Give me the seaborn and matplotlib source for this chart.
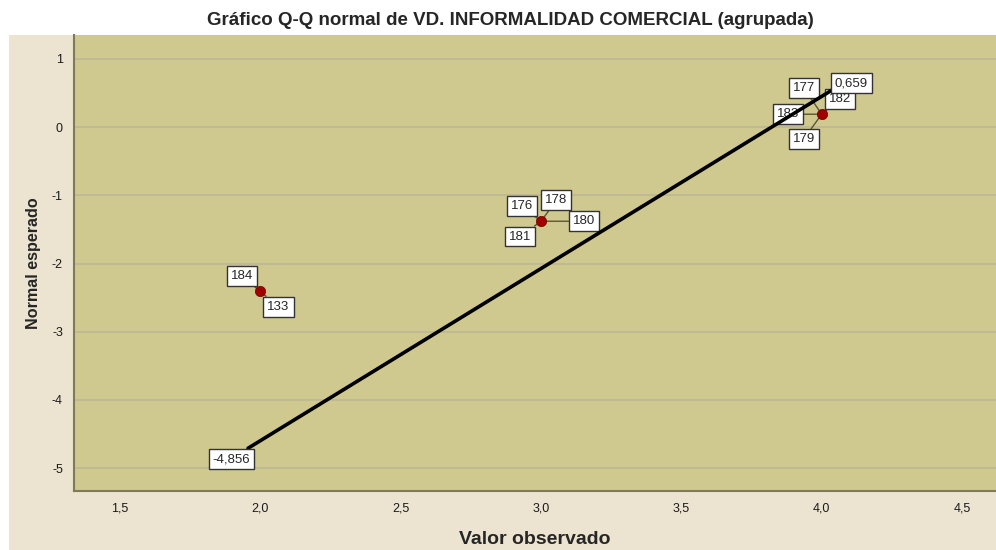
import matplotlib
matplotlib.use("Agg")
import matplotlib.pyplot as plt
import matplotlib.patches as mpatches
from matplotlib.ticker import FuncFormatter, FixedLocator
import seaborn as sns
import pandas as pd

# Data
obs_values = [2.0, 3.0, 4.0]
expected_normal = [-2.41, -1.38, 0.19]
line_x = [1.956, 4.037]
line_y = [-4.71, 0.545]
line_labels = ["-4,856", "0,659"]
# case labels per point
point_labels = [["184", "133"], ["176", "178", "180", "181"], ["177", "183", "182", "179"]]
x_ticks = [1.5, 2.0, 2.5, 3.0, 3.5, 4.0, 4.5]
y_ticks = [1, 0, -1, -2, -3, -4, -5]

title = "Gráfico Q-Q normal de VD. INFORMALIDAD COMERCIAL (agrupada)"
xlabel = "Valor observado"
ylabel = "Normal esperado"

sns.set_theme(style="white")
plt.rcParams['font.family'] = ['Arial', 'Liberation Sans', 'DejaVu Sans']

fig = plt.figure(figsize=(9.96, 5.5), dpi=100)
fig.patch.set_facecolor("white")
# outer beige panel
fig.add_artist(mpatches.Rectangle((9/996, 0), 1 - 9/996, (550-35)/550,
                                  transform=fig.transFigure, facecolor="#ECE4D0",
                                  edgecolor="none", zorder=0))

ax = fig.add_axes([74/996, 59/550, 1 - 74/996, (491-35)/550])
ax.set_facecolor("#CFC98F")
ax.set_xlim(1.336, 4.621)
ax.set_ylim(-5.337, 1.352)

ax.yaxis.set_major_locator(FixedLocator(y_ticks))
ax.xaxis.set_major_locator(FixedLocator(x_ticks))
ax.yaxis.set_major_formatter(FuncFormatter(lambda v, p: f"{v:.0f}".replace("-0", "0")))
ax.xaxis.set_major_formatter(FuncFormatter(lambda v, p: f"{v:.1f}".replace(".", ",")))
ax.grid(axis="y", color="#BDB697", linewidth=1.2)
ax.grid(axis="x", visible=False)
ax.set_axisbelow(True)
for s in ["top", "right"]:
    ax.spines[s].set_visible(False)
for s in ["left", "bottom"]:
    ax.spines[s].set_color("#7F7A5A")
    ax.spines[s].set_linewidth(1.5)
ax.tick_params(axis="both", length=0, labelsize=9, colors="#1a1a1a", pad=8)

df_line = pd.DataFrame({"x": line_x, "y": line_y})
sns.lineplot(data=df_line, x="x", y="y", ax=ax, color="black", linewidth=2.6, zorder=4)

df_pts = pd.DataFrame({"x": obs_values, "y": expected_normal})
sns.scatterplot(data=df_pts, x="x", y="y", ax=ax, color="#A00000", s=55,
                edgecolor="#700000", linewidth=0.5, zorder=5)

box = dict(boxstyle="square,pad=0.3", facecolor="white", edgecolor="#333333", linewidth=1)
# pixel offsets for labels per point (dx, dy) in points
offsets = [
    [(-13, 11), (13, -11)],
    [(-14, 11), (11, 15), (31, 0), (-15, -11)],
    [(-13, 19), (-24, 0), (13, 11), (-13, -18)],
]
for (xv, yv), labs, offs in zip(zip(obs_values, expected_normal), point_labels, offsets):
    for lab, (dx, dy) in zip(labs, offs):
        ax.annotate(lab, (xv, yv), xytext=(dx, dy), textcoords="offset points",
                    ha="center", va="center", fontsize=9.5, bbox=box, zorder=3,
                    arrowprops=dict(arrowstyle="-", color="#5a5530", lw=1, shrinkA=0, shrinkB=3))

ax.annotate(line_labels[0], (line_x[0], line_y[0]), xytext=(-12, -8), textcoords="offset points",
            ha="center", va="center", fontsize=9.5, bbox=box, zorder=6)
ax.annotate(line_labels[1], (line_x[1], line_y[1]), xytext=(14, 5), textcoords="offset points",
            ha="center", va="center", fontsize=9.5, bbox=box, zorder=6)

ax.set_xlabel(xlabel, fontsize=14, fontweight="bold", labelpad=12)
ax.set_ylabel(ylabel, fontsize=11.6, fontweight="bold", labelpad=8)
fig.text(0.512, 0.962, title, ha="center", va="center", fontsize=13.5, fontweight="bold")

fig.savefig("out.png", dpi=100)
